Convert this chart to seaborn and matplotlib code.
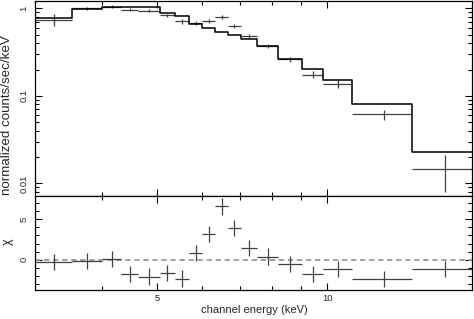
import numpy as np
import pandas as pd
import seaborn as sns
import matplotlib.pyplot as plt
from matplotlib.ticker import FixedLocator, LogLocator, MultipleLocator, FuncFormatter, NullFormatter

# channel bin edges (keV)
edges = [3.04, 3.53, 4.00, 4.32, 4.63, 5.06, 5.37, 5.70, 6.00, 6.34,
         6.67, 7.04, 7.52, 8.18, 9.04, 9.85, 11.06, 14.12, 18.2]

# data: normalized counts/sec/keV with 1-sigma errors
rate = [0.745, 1.00, 1.045, 0.966, 0.94, 0.832, 0.71, 0.68, 0.716,
        0.796, 0.634, 0.483, 0.372, 0.262, 0.175, 0.137, 0.0613, 0.0144]
rate_err = [0.11, 0.04, 0.04, 0.035, 0.04, 0.035, 0.04, 0.035, 0.035,
            0.04, 0.03, 0.025, 0.02, 0.018, 0.016, 0.013, 0.0085, 0.0065]

# folded model per bin
model = [0.785, 0.99, 1.03, 1.035, 1.03, 0.893, 0.81, 0.67, 0.60,
         0.537, 0.50, 0.443, 0.372, 0.262, 0.205, 0.152, 0.0805, 0.0226]

# residuals in units of sigma
chi = [-0.25, -0.1, 0.1, -1.75, -2.05, -1.65, -2.3, 0.8, 3.15,
       6.55, 3.95, 1.44, 0.4, -0.5, -1.7, -1.1, -2.35, -1.1]

sns.set_style("ticks")
plt.rcParams["font.family"] = ["Liberation Sans", "DejaVu Sans"]

lo = np.array(edges[:-1])
hi = np.array(edges[1:])
df = pd.DataFrame({"lo": lo, "hi": hi, "rate": rate, "err": rate_err,
                   "model": model, "chi": chi})
df["e"] = (df["lo"] + df["hi"]) / 2
df["de"] = (df["hi"] - df["lo"]) / 2

steps = pd.DataFrame({"e": edges, "model": model + [model[-1]]})

W, H = 474, 319
fig = plt.figure(figsize=(W / 100, H / 100), dpi=100)
ax1 = fig.add_axes([35 / W, 1 - 195.5 / H, 437 / W, 195 / H])
ax2 = fig.add_axes([35 / W, 1 - 290 / H, 437 / W, 94.5 / H], sharex=ax1)

data_col = "0.25"

# top panel: data + model
ax1.errorbar(df["e"], df["rate"], xerr=df["de"], yerr=df["err"], fmt="none",
             ecolor=data_col, elinewidth=0.9, capsize=0)
sns.lineplot(data=steps, x="e", y="model", ax=ax1, color="black",
             linewidth=1.1, drawstyle="steps-post", legend=False)
ax1.set_yscale("log")
ax1.set_ylim(0.00726, 1.23)

# bottom panel: residuals
ax2.axhline(0, color="0.6", lw=1.3, ls=(0, (3, 2)))
ax2.errorbar(df["e"], df["chi"], xerr=df["de"], yerr=1, fmt="none",
             ecolor=data_col, elinewidth=0.9, capsize=0)
ax2.set_ylim(-3.7, 7.9)

ax2.set_xscale("log")
ax2.set_xlim(3.04, 18.05)

for ax in (ax1, ax2):
    ax.xaxis.set_major_locator(FixedLocator([5, 10]))
    ax.xaxis.set_minor_locator(FixedLocator([4, 6, 7, 8, 9]))
    ax.xaxis.set_minor_formatter(NullFormatter())
    ax.set_xlabel("")
    ax.set_ylabel("")
    ax.tick_params(which="both", direction="in", top=True, right=True,
                   width=0.8, color="black", labelsize=6.8)
    ax.tick_params(which="major", length=5)
    ax.tick_params(which="minor", length=3)
    ax.tick_params(axis="y", labelrotation=90, pad=4.5)
    ax.tick_params(axis="x", pad=3)
    for s in ax.spines.values():
        s.set_linewidth(0.9)
        s.set_color("black")

ax1.yaxis.set_major_locator(LogLocator(base=10))
ax1.yaxis.set_minor_locator(LogLocator(base=10, subs=np.arange(2, 10)))
ax1.yaxis.set_major_formatter(FuncFormatter(lambda v, p: f"{v:g}"))
ax1.yaxis.set_minor_formatter(NullFormatter())
ax1.tick_params(axis="x", labelbottom=False)

ax2.yaxis.set_major_locator(FixedLocator([0, 5]))
ax2.yaxis.set_minor_locator(MultipleLocator(1))
ax2.xaxis.set_major_formatter(FuncFormatter(lambda v, p: f"{v:g}"))

for ax in (ax1, ax2):
    for t in ax.get_yticklabels():
        t.set_va("center")

fig.text(7.5 / W, 1 - 115 / H, "normalized counts/sec/keV", rotation=90,
         ha="center", va="center", fontsize=9.6)
fig.text(7.5 / W, 1 - 242 / H, "χ", rotation=90, ha="center", va="center",
         fontsize=9)
fig.text(254 / W, 1 - 310 / H, "channel energy (keV)", ha="center",
         va="center", fontsize=8)

fig.savefig("out.png", dpi=100)
